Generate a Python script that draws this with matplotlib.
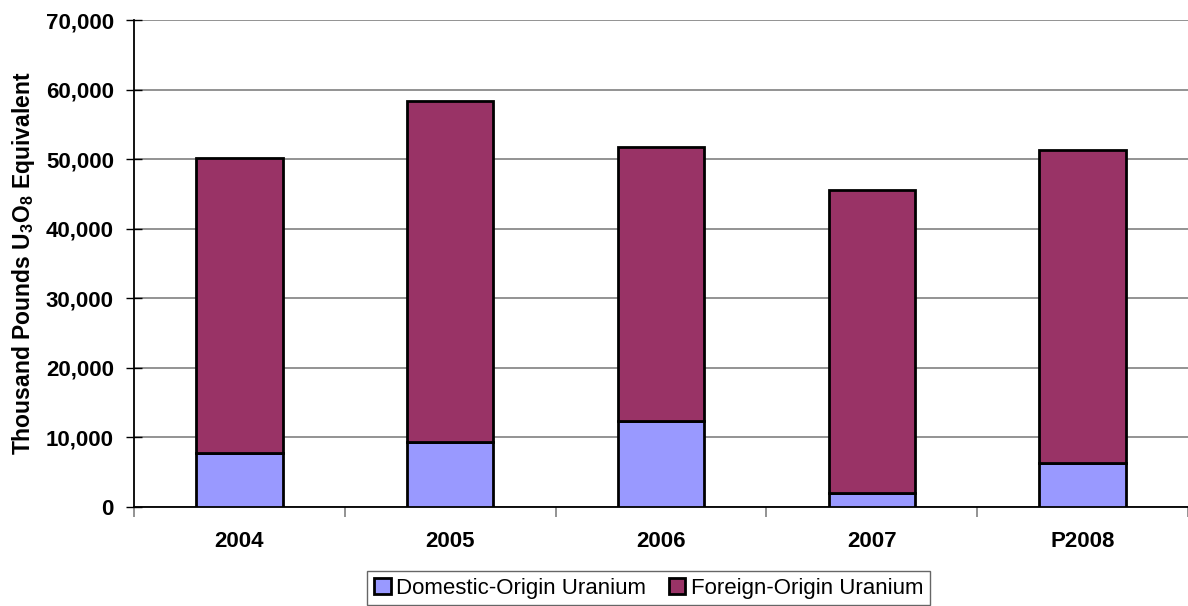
# Uranium purchases by origin, stacked bars
import numpy as np
import matplotlib.pyplot as plt

plt.rcParams['font.family'] = ['Liberation Sans', 'DejaVu Sans']
plt.rcParams['mathtext.default'] = 'regular'

# Data (thousand pounds U3O8 equivalent)
years = ['2004', '2005', '2006', '2007', 'P2008']
domestic = [7800, 9400, 12400, 2000, 6300]
total = [50100, 58300, 51700, 45500, 51300]
foreign = [t - d for t, d in zip(total, domestic)]

fig = plt.figure(figsize=(11.88, 6.06), dpi=100)
ax = fig.add_axes([134 / 1188, 1 - 507 / 606, 1 - 134 / 1188, (507 - 20) / 606])

x = np.arange(len(years))
w = 0.41
ax.bar(x, domestic, w, color='#9999FF', edgecolor='black', linewidth=2,
       label='Domestic-Origin Uranium', zorder=3)
ax.bar(x, foreign, w, bottom=domestic, color='#993366', edgecolor='black',
       linewidth=2, label='Foreign-Origin Uranium', zorder=3)

ax.set_xlim(-0.5, len(years) - 0.5)
ax.set_ylim(0, 70000)
ax.set_yticks(np.arange(0, 70001, 10000))
ax.set_yticklabels([f'{v:,}' for v in range(0, 70001, 10000)],
                   fontsize=16, fontweight='bold')
ax.yaxis.grid(True, color='#808080', linewidth=1.2, zorder=0)
ax.set_axisbelow(True)

# category labels centred, tick marks at boundaries
ax.set_xticks(x)
ax.set_xticklabels(years, fontsize=16, fontweight='bold')
ax.tick_params(axis='x', length=0, pad=17)
ax.set_xticks(np.arange(-0.5, len(years)), minor=True)
ax.tick_params(axis='x', which='minor', length=7, width=1.2, color='#808080')
ax.tick_params(axis='y', length=11, width=1, direction='inout', pad=9)

for s in ['top', 'right']:
    ax.spines[s].set_visible(False)
ax.spines['left'].set_linewidth(1.3)
ax.spines['bottom'].set_linewidth(1.3)

ax.set_ylabel('Thousand Pounds U$_3$O$_8$ Equivalent', fontsize=16.5,
              fontweight='bold', labelpad=6)

leg = fig.legend(loc='upper center', bbox_to_anchor=(0.546, 1 - 571 / 606),
                 ncol=2, fontsize=16, frameon=True, fancybox=False,
                 edgecolor='#404040', handlelength=0.75, handleheight=0.75,
                 handletextpad=0.25, columnspacing=1.0, borderpad=0.3,
                 borderaxespad=0)
leg.get_frame().set_linewidth(1.0)

fig.savefig('out.png', dpi=100)
